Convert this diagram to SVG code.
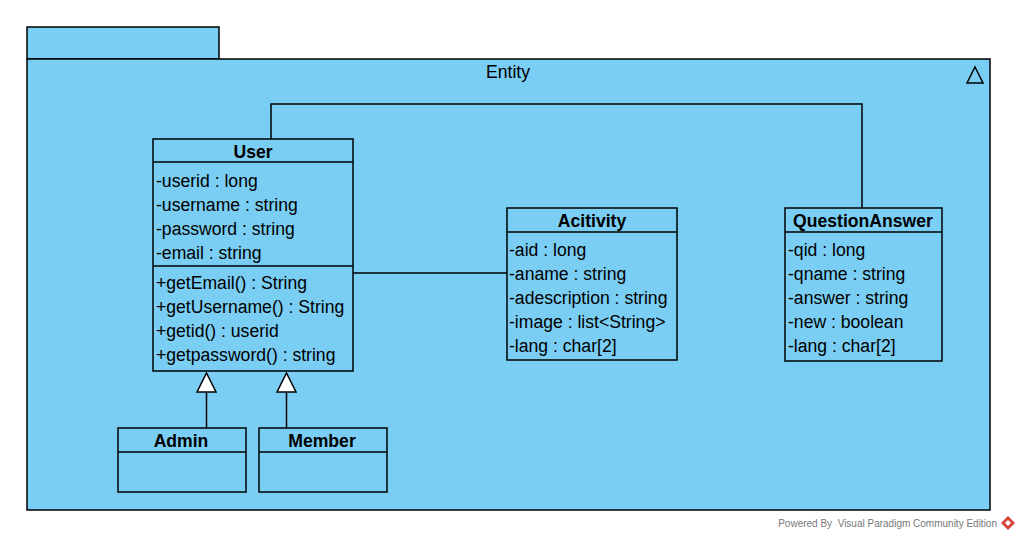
<svg xmlns="http://www.w3.org/2000/svg" width="1020" height="540" viewBox="0 0 1020 540">
<style>
.box{fill:#7ACEF4;stroke:#000;stroke-width:1.5}
.ln{stroke:#000;stroke-width:1.5;fill:none}
.t{font-family:"Liberation Sans",Arial,sans-serif;font-size:17.6px;fill:#000}
.h{font-family:"Liberation Sans",Arial,sans-serif;font-size:17.6px;font-weight:bold;fill:#000;text-anchor:middle}
.gen{fill:#fff;stroke:#000;stroke-width:1.5}
.foot{font-family:"Liberation Sans",Arial,sans-serif;font-size:10px;fill:#777;white-space:pre}
</style>
<rect width="1020" height="540" fill="#fff"/>
<g id="package-Entity">
<rect class="box" x="27" y="27" width="192" height="32"/>
<rect class="box" x="27" y="59" width="963" height="451"/>
<text class="t" x="508" y="78" text-anchor="middle">Entity</text>
<polygon points="975,67 983,83 967,83" fill="none" stroke="#000" stroke-width="1.5"/>
</g>
<g id="connectors">
<polyline class="ln" points="271,139 271,104 862,104 862,208"/>
<line class="ln" x1="353" y1="273" x2="507" y2="273"/>
<line class="ln" x1="206.5" y1="392" x2="206.5" y2="428"/>
<polygon class="gen" points="206.5,373 216,392 197,392"/>
<line class="ln" x1="286.5" y1="392" x2="286.5" y2="428"/>
<polygon class="gen" points="286.5,373 296,392 277,392"/>
</g>
<g id="User">
<rect class="box" x="153" y="139" width="200" height="232"/>
<line class="ln" x1="153" y1="162" x2="353" y2="162"/>
<line class="ln" x1="153" y1="266" x2="353" y2="266"/>
<text class="h" x="253" y="158">User</text>
<text class="t" x="156" y="187">-userid : long</text>
<text class="t" x="156" y="211">-username : string</text>
<text class="t" x="156" y="235">-password : string</text>
<text class="t" x="156" y="259">-email : string</text>
<text class="t" x="156" y="289">+getEmail() : String</text>
<text class="t" x="156" y="313">+getUsername() : String</text>
<text class="t" x="156" y="337">+getid() : userid</text>
<text class="t" x="156" y="361">+getpassword() : string</text>
</g>
<g id="Acitivity">
<rect class="box" x="507" y="208" width="170" height="152"/>
<line class="ln" x1="507" y1="232" x2="677" y2="232"/>
<text class="h" x="592" y="227">Acitivity</text>
<text class="t" x="509" y="256">-aid : long</text>
<text class="t" x="509" y="280">-aname : string</text>
<text class="t" x="509" y="304">-adescription : string</text>
<text class="t" x="509" y="328">-image : list&lt;String&gt;</text>
<text class="t" x="509" y="352">-lang : char[2]</text>
</g>
<g id="QuestionAnswer">
<rect class="box" x="785" y="208" width="157" height="153"/>
<line class="ln" x1="785" y1="232" x2="942" y2="232"/>
<text class="h" x="863" y="227">QuestionAnswer</text>
<text class="t" x="788" y="256">-qid : long</text>
<text class="t" x="788" y="280">-qname : string</text>
<text class="t" x="788" y="304">-answer : string</text>
<text class="t" x="788" y="328">-new : boolean</text>
<text class="t" x="788" y="352">-lang : char[2]</text>
</g>
<g id="Admin">
<rect class="box" x="118" y="428" width="128" height="64"/>
<line class="ln" x1="118" y1="452" x2="246" y2="452"/>
<text class="h" x="181" y="447">Admin</text>
</g>
<g id="Member">
<rect class="box" x="259" y="428" width="128" height="64"/>
<line class="ln" x1="259" y1="452" x2="387" y2="452"/>
<text class="h" x="322" y="447">Member</text>
</g>
<g id="footer">
<text class="foot" x="997" y="527" text-anchor="end" xml:space="preserve">Powered By  Visual Paradigm Community Edition</text>
<polygon points="1008,516 1015,523 1008,530 1001,523" fill="#d9413a"/>
<polygon points="1008,520 1011,523 1008,526 1005,523" fill="#fff"/>
</g>
</svg>
